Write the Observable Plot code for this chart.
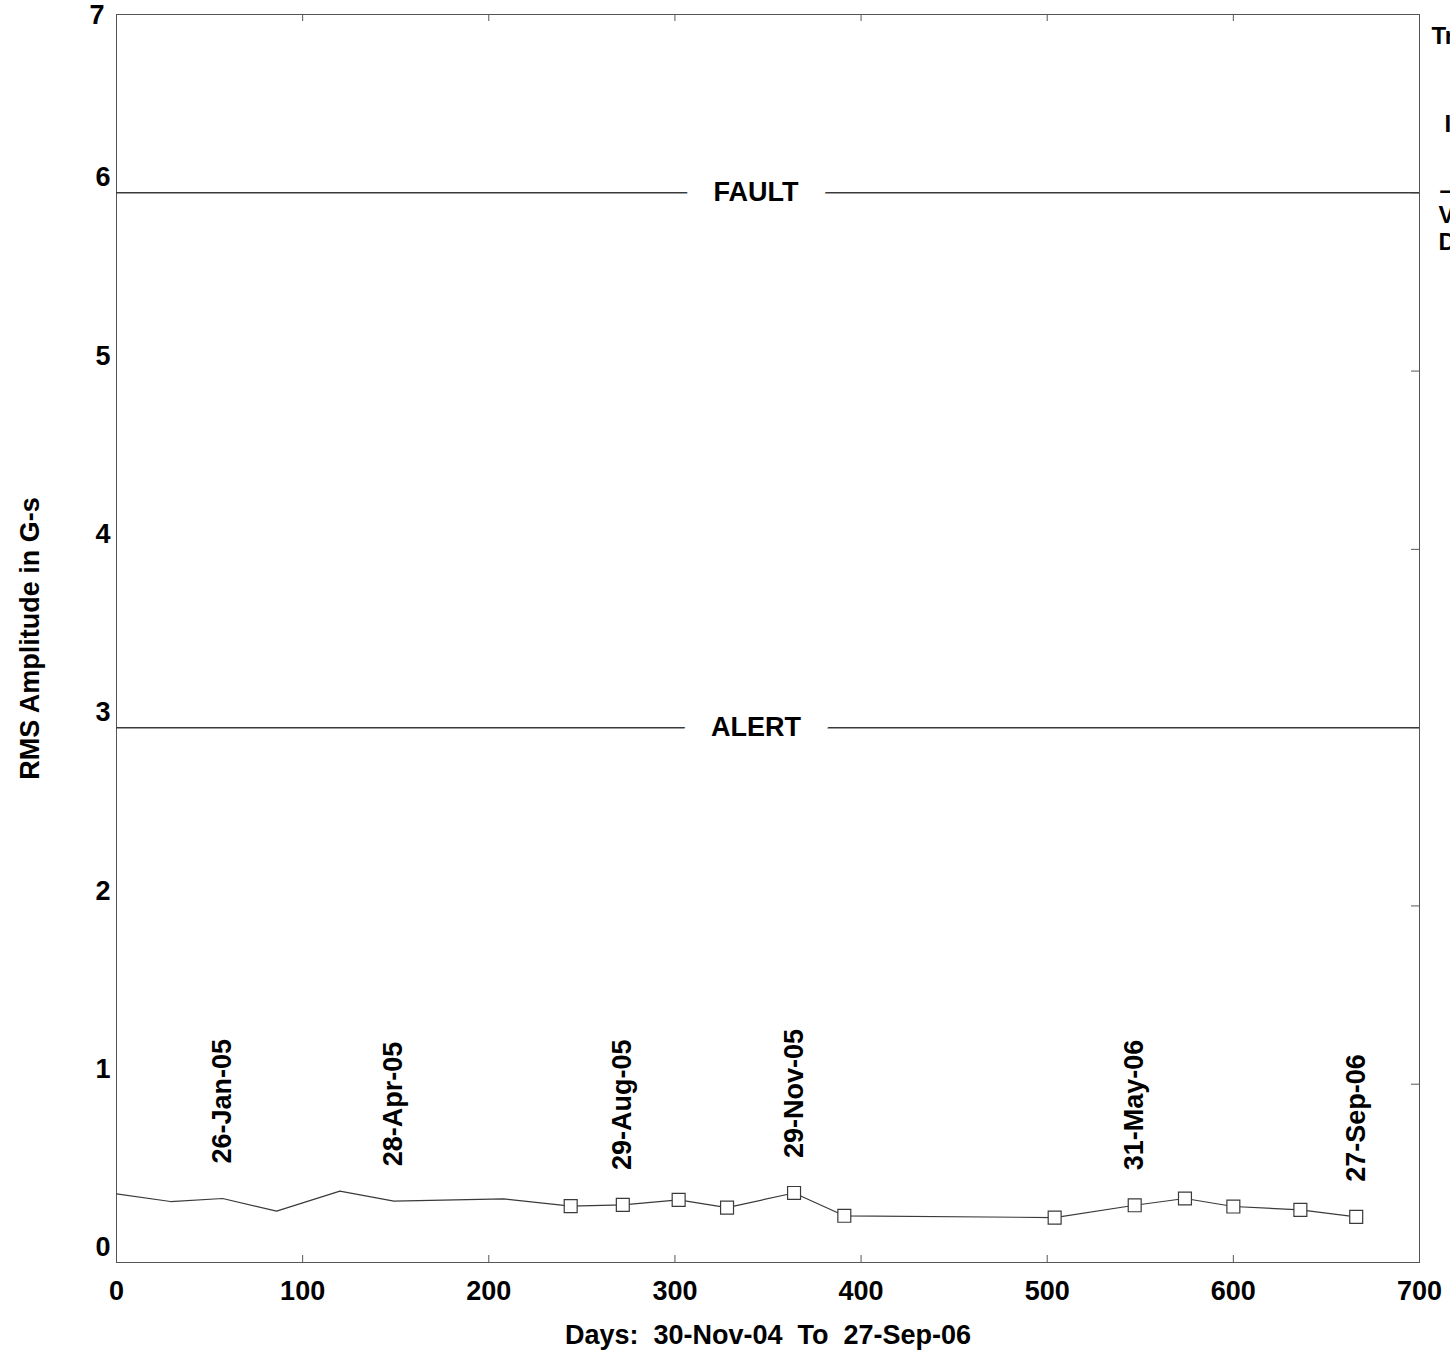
<!DOCTYPE html>
<html><head><meta charset="utf-8">
<script src="https://cdn.jsdelivr.net/npm/d3@7"></script>
<script src="https://cdn.jsdelivr.net/npm/@observablehq/plot@0.6"></script>
<style>
html,body{margin:0;padding:0;background:#fff;overflow:hidden;width:1450px;height:1363px}
#chart svg{display:block}
</style></head><body><div id="chart"></div>
<script>
// ---- data ----
const days   = [0, 29, 57, 86, 120, 149, 208, 244, 272, 302, 328, 364, 391, 504, 547, 574, 600, 636, 666];
const rms    = [0.385, 0.342, 0.359, 0.288, 0.40, 0.344, 0.357, 0.316, 0.323, 0.351, 0.308, 0.39, 0.262, 0.252, 0.321, 0.359, 0.314, 0.295, 0.256];
const marked = [false, false, false, false, false, false, false, true, true, true, true, true, true, true, true, true, true, true, true];
const dateLabels    = ["26-Jan-05", "28-Apr-05", "29-Aug-05", "29-Nov-05", "31-May-06", "27-Sep-06"];
const dateLabelDays = [57, 149, 272, 364, 547, 666];
const thresholdValues = [6, 3];
const thresholdNames  = ["FAULT", "ALERT"];
const xTicks = [0, 100, 200, 300, 400, 500, 600, 700];
const yTicks = [0, 1, 2, 3, 4, 5, 6, 7];
const xTitle = "Days:  30-Nov-04  To  27-Sep-06";
const yTitle = "RMS Amplitude in G-s";
const sideNotes = ["Trend", "I", "–", "Value", "Date"];

// ---- build tables ----
const series = days.map((d, i) => ({day: d, rms: rms[i], marked: marked[i]}));
const labels = dateLabels.map((t, i) => {
  const p = series.find(s => s.day === dateLabelDays[i]);
  return {day: dateLabelDays[i], rms: p ? p.rms : 0, text: t};
});
const thresholds = thresholdValues.map((v, i) => ({value: v, name: thresholdNames[i]}));

const W = 1450, H = 1363, mL = 116, mR = 31, mT = 14, mB = 101;
const innerW = W - mL - mR, innerH = H - mT - mB;
const font = {fontSize: 27, fontWeight: "bold", fill: "black"};
const side = {frameAnchor: "top-right", textAnchor: "start", fontSize: 24, fontWeight: "bold", fill: "black"};
const ink = "#3a3a3a";

const chart = Plot.plot({
  width: W, height: H,
  marginLeft: mL, marginRight: mR, marginTop: mT, marginBottom: mB,
  x: {domain: [0, 700], axis: null},
  y: {domain: [0, 7], axis: null},
  style: {fontFamily: "'Liberation Sans', Arial, Helvetica, sans-serif", background: "white", overflow: "hidden"},
  marks: [
    Plot.frame({stroke: "#555", strokeWidth: 1}),
    // inward ticks
    Plot.tickX(xTicks.slice(1, -1), {x: d => d, insetTop: innerH - 7, stroke: "#555"}),
    Plot.tickX(xTicks.slice(1, -1), {x: d => d, insetBottom: innerH - 7, stroke: "#555"}),
    Plot.tickY(yTicks.slice(1, -1), {y: d => d, insetLeft: innerW - 8, stroke: "#555"}),
    // threshold lines with labels
    Plot.ruleY(thresholds, {y: "value", stroke: ink, strokeWidth: 1.5}),
    Plot.text(thresholds, {y: "value", text: "name", frameAnchor: "middle", dx: -12,
      stroke: "white", strokeWidth: 56, strokeLinejoin: "round", paintOrder: "stroke", ...font}),
    // data
    Plot.line(series, {x: "day", y: "rms", stroke: ink, strokeWidth: 1.2}),
    Plot.dot(series.filter(d => d.marked), {x: "day", y: "rms", symbol: "square", r: 7.3, fill: "white", stroke: ink, strokeWidth: 1.2}),
    // date annotations
    Plot.text(labels, {x: "day", y: "rms", text: "text", rotate: -90, textAnchor: "start", dy: -35, ...font}),
    // tick labels
    Plot.text(xTicks, {x: d => d, text: d => String(d), frameAnchor: "bottom", dy: 37, ...font}),
    Plot.text(yTicks.filter(d => d < 7), {y: d => d, text: d => String(d), frameAnchor: "left", textAnchor: "end", dx: -6, dy: -15, ...font}),
    Plot.text(yTicks.filter(d => d === 7), {y: d => d, text: d => String(d), frameAnchor: "left", textAnchor: "end", dx: -12, dy: 1, ...font}),
    // axis titles
    Plot.text([xTitle], {text: d => d, frameAnchor: "bottom", textAnchor: "middle", dy: 81, ...font}),
    Plot.text([yTitle], {text: d => d, frameAnchor: "left", textAnchor: "middle", rotate: -90, dx: -86, ...font}),
    // cut-off side notes
    Plot.text([sideNotes[0]], {text: d => d, dx: 12, dy: 12, ...side}),
    Plot.text([sideNotes[1]], {text: d => d, dx: 25, dy: 100, ...side}),
    Plot.text([sideNotes[2]], {text: d => d, dx: 20, dy: 166, ...side}),
    Plot.text([sideNotes[3]], {text: d => d, dx: 19, dy: 191, ...side}),
    Plot.text([sideNotes[4]], {text: d => d, dx: 19, dy: 218, ...side})
  ]
});
document.getElementById("chart").appendChild(chart);
</script></body></html>
